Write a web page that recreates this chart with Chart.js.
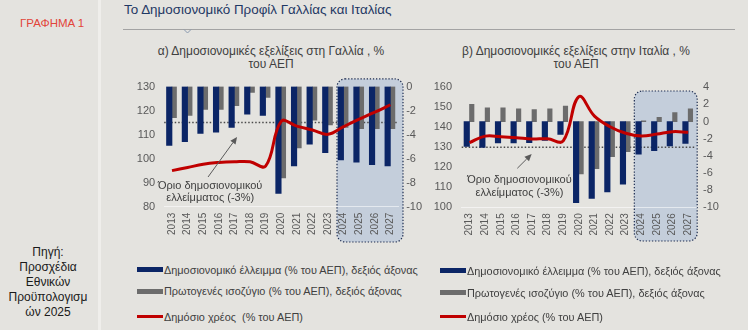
<!DOCTYPE html>
<html><head><meta charset="utf-8">
<script src="https://cdn.jsdelivr.net/npm/chart.js@4.4.1/dist/chart.umd.min.js"></script>
<style>
html,body{margin:0;padding:0;}
body{width:748px;height:330px;background:#e4e3df;position:relative;overflow:hidden;font-family:"Liberation Sans",Arial,sans-serif;}
.abs{position:absolute;white-space:nowrap;}
.sub{font-size:12px;color:#404040;text-align:center;width:320px;line-height:13px;}
.leg{position:absolute;font-size:10.9px;color:#404040;line-height:14px;white-space:pre;}
.sw{position:absolute;width:26px;}
canvas{position:absolute;}
</style></head><body>
<div class="abs" style="left:98px;top:0;width:3px;height:330px;background:#efeeeb"></div>
<div class="abs" style="left:20px;top:17px;font-size:11.5px;color:#e2453a;">ΓΡΑΦΗΜΑ 1</div>
<div class="abs" style="left:0;top:245px;width:96px;text-align:center;font-size:12px;line-height:15px;color:#1a1a1a;white-space:normal">Πηγή:<br>Προσχέδια<br>Εθνικών<br>Προϋπολογισμ<br>ών 2025</div>
<div class="abs" style="left:124px;top:2px;font-size:13.4px;color:#1f3864;">Το Δημοσιονομικό Προφίλ Γαλλίας και Ιταλίας</div>
<svg class="abs" style="left:0;top:0" width="748" height="40"><line x1="123" y1="29.5" x2="735" y2="29.5" stroke="#a3a3a3" stroke-width="1"/><polyline points="184,29.5 187.5,33 191,29.5" fill="none" stroke="#8a9ab0" stroke-width="1"/></svg>
<div class="abs sub" style="left:111px;top:45px;">α) Δημοσιονομικές εξελίξεις στη Γαλλία , %<br>του ΑΕΠ</div>
<div class="abs sub" style="left:416px;top:45px;">β) Δημοσιονομικές εξελίξεις στην Ιταλία , %<br>του ΑΕΠ</div>
<canvas id="fr" width="310" height="180" style="left:120px;top:70px"></canvas>
<canvas id="it" width="328" height="180" style="left:420px;top:70px"></canvas>
<div id="legends"></div>
<script>
// ---- data ----
const years = ['2013','2014','2015','2016','2017','2018','2019','2020','2021','2022','2023','2024','2025','2026','2027'];
const frDeficit = [-4.9,-4.6,-3.9,-3.8,-3.4,-2.3,-2.4,-8.9,-6.6,-4.8,-5.5,-6.1,-6.3,-6.5,-6.6];
const frPrimary = [-2.6,-2.4,-1.9,-1.9,-1.6,-0.5,-0.9,-7.6,-5.1,-2.8,-3.2,-3.4,-3.5,-3.5,-3.5];
const frDebt    = [95.0,96.3,97.7,98.4,98.7,98.7,96.9,115.5,113.5,111.9,110.1,113.3,116.4,119.3,122.4];
const itDeficit = [-2.9,-3.0,-2.5,-2.5,-2.45,-2.2,-1.5,-9.45,-8.95,-8.2,-7.3,-3.8,-3.4,-2.85,-2.55];
const itPrimary = [2.0,1.6,1.6,1.5,1.4,1.5,1.8,-6.1,-5.5,-4.1,-3.5,0.1,0.5,1.05,1.5];
const itDebt    = [132.3,135.6,135.3,134.8,134.1,134.3,133.2,155.3,145.6,140.3,137.0,135.6,136.6,137.8,137.5];
const frLeftTicks  = [80,90,100,110,120,130];
const frRightTicks = [-10,-8,-6,-4,-2,0];
const itLeftTicks  = [100,110,120,130,140,150,160];
const itRightTicks = [-10,-8,-6,-4,-2,0,2,4];
const deficitLimit = -3;
const seriesLabels = ['Δημοσιονομικό έλλειμμα (% του ΑΕΠ), δεξιός άξονας','Πρωτογενές ισοζύγιο (% του ΑΕΠ), δεξιός άξονας','Δημόσιο χρέος (% του ΑΕΠ)'];
const frLegendLabels = ['Δημοσιονομικό έλλειμμα (% του ΑΕΠ), δεξιός άξονας','Πρωτογενές ισοζύγιο (% του ΑΕΠ), δεξιός άξονας','Δημόσιο χρέος  (% του ΑΕΠ)'];
const annotationLines = ['Όριο δημοσιονομικού','ελλείμματος (-3%)'];
const projectedFrom = '2024', projectedTo = '2027';

const NAVY = '#0b2566', GREY = '#6c6c6c', RED = '#c00000';
const FONT = '"Liberation Sans", Arial, sans-serif';

function roundRectPath(ctx,x,y,w,h,r){
  ctx.beginPath();
  ctx.moveTo(x+r,y); ctx.lineTo(x+w-r,y); ctx.arcTo(x+w,y,x+w,y+r,r);
  ctx.lineTo(x+w,y+h-r); ctx.arcTo(x+w,y+h,x+w-r,y+h,r);
  ctx.lineTo(x+r,y+h); ctx.arcTo(x,y+h,x,y+h-r,r);
  ctx.lineTo(x,y+r); ctx.arcTo(x,y,x+r,y,r); ctx.closePath();
}

const overlay = {
  id:'overlay',
  beforeDraw(chart,args,o){
    const {ctx, chartArea:ca, scales:{x,y1}} = chart;
    const left = x.getPixelForValue(years.indexOf(projectedFrom)) - o.padL;
    const right = x.getPixelForValue(years.indexOf(projectedTo)) + o.padR;
    const top = y1.getPixelForValue(o.topVal);
    const bottom = ca.bottom + o.below;
    ctx.save();
    roundRectPath(ctx,left,top,right-left,bottom-top,8);
    ctx.fillStyle = '#c4cedb'; ctx.fill();
    ctx.setLineDash([1.3,1.8]); ctx.lineWidth = 1.2; ctx.strokeStyle = '#1c2b4f'; ctx.stroke();
    ctx.restore();
  },
  beforeDatasetsDraw(chart,args,o){
    const {ctx, chartArea:ca, scales:{y1}} = chart;
    const yy = y1.getPixelForValue(deficitLimit);
    ctx.save();
    ctx.setLineDash([1.5,2]); ctx.lineWidth = 1.5; ctx.strokeStyle = '#4a4a4a';
    ctx.beginPath(); ctx.moveTo(ca.left, yy); ctx.lineTo(ca.right, yy); ctx.stroke();
    ctx.restore();
  },
  afterDatasetsDraw(chart,args,o){
    const {ctx, scales:{x,y,y1}} = chart;
    const px = v => x.getPixelForValue(0) + v*(x.getPixelForValue(1)-x.getPixelForValue(0));
    const x0 = px(o.tail[0]), yA = y1.getPixelForValue(o.tail[1]);
    const x1 = px(o.head[0]), yB = y1.getPixelForValue(o.head[1]);
    ctx.save();
    ctx.strokeStyle = '#5a5a5a'; ctx.fillStyle = '#5a5a5a'; ctx.lineWidth = 1;
    const ang = Math.atan2(yB-yA, x1-x0);
    const hl = 7, hw = 3.2;
    const bx = x1 - hl*Math.cos(ang), by = yB - hl*Math.sin(ang);
    ctx.beginPath(); ctx.moveTo(x0,yA); ctx.lineTo(bx,by); ctx.stroke();
    ctx.beginPath(); ctx.moveTo(x1,yB);
    ctx.lineTo(bx - hw*Math.sin(ang), by + hw*Math.cos(ang));
    ctx.lineTo(bx + hw*Math.sin(ang), by - hw*Math.cos(ang));
    ctx.closePath(); ctx.fill();
    ctx.font = '11px ' + FONT; ctx.fillStyle = '#404040';
    ctx.textAlign = 'center'; ctx.textBaseline = 'middle';
    const tx = px(o.textX);
    ctx.fillText(annotationLines[0], tx, y.getPixelForValue(o.textY[0]));
    ctx.fillText(annotationLines[1], tx, y.getPixelForValue(o.textY[1]));
    ctx.restore();
  }
};

function makeChart(id, c){
  const tickFont = {size:11, family:FONT};
  return new Chart(document.getElementById(id), {
    type:'bar',
    plugins:[overlay],
    data:{labels:years, datasets:[
      {type:'line', label:seriesLabels[2], data:c.debt, yAxisID:'y', borderColor:RED, backgroundColor:RED, borderWidth:3, pointRadius:0, tension:0.4, order:0},
      {label:seriesLabels[0], data:c.deficit, yAxisID:'y1', backgroundColor:NAVY, barThickness:5.5, order:1},
      {label:seriesLabels[1], data:c.primary, yAxisID:'y1', backgroundColor:GREY, barThickness:4.5, order:2}
    ]},
    options:{
      responsive:false, animation:false, devicePixelRatio:1,
      layout:{padding:{top:c.padTop,left:0,right:0,bottom:0}},
      plugins:{legend:{display:false}, tooltip:{enabled:false}, overlay:c.ov},
      scales:{
        x:{grid:{display:false,drawTicks:false}, border:{display:true,color:'rgba(255,255,255,0.55)',width:1},
           ticks:{minRotation:90,maxRotation:90,autoSkip:false,padding:6,color:'#595959',font:{size:10,family:FONT}},
           afterFit(s){s.height=c.xH;}},
        y:{position:'left', min:c.left[0], max:c.left[c.left.length-1],
           afterBuildTicks(s){s.ticks=c.left.map(v=>({value:v}));},
           ticks:{color:'#595959',font:tickFont,padding:c.lPad}, grid:{display:false,drawTicks:false}, border:{display:false},
           afterFit(s){s.width=c.leftW;}},
        y1:{position:'right', min:c.right[0], max:c.right[c.right.length-1],
           afterBuildTicks(s){s.ticks=c.right.map(v=>({value:v}));},
           ticks:{color:'#595959',font:tickFont,padding:c.rPad}, grid:{display:false,drawTicks:false}, border:{display:false},
           afterFit(s){s.width=c.rightW;}}
      }
    }
  });
}

makeChart('fr', {debt:frDebt, deficit:frDeficit, primary:frPrimary, left:frLeftTicks, right:frRightTicks,
  padTop:16.5, xH:43.3, leftW:44.2, rightW:31.8, lPad:9, rPad:8,
  ov:{padL:6.6, padR:12.6, topVal:0.63, below:35.3, tail:[2.31,-7.53], head:[4.17,-4.2], textX:2.45, textY:[88.7,83.7]}});
makeChart('it', {debt:itDebt, deficit:itDeficit, primary:itPrimary, left:itLeftTicks, right:itRightTicks,
  padTop:17.3, xH:42.7, leftW:41.7, rightW:52, lPad:9.7, rPad:7,
  ov:{padL:7, padR:9, topVal:3.57, below:33.7, tail:[3.06,-5.45], head:[3.98,-3.78], textX:3.2, textY:[113.6,107.3]}});

// ---- HTML legends ----
function legend(x, labels, rows){
  const colors = [NAVY, GREY, RED];
  const host = document.getElementById('legends');
  labels.forEach((t,i)=>{
    const cy = rows[i];
    const h = i<2 ? 5 : 3;
    const sw = document.createElement('div');
    sw.className='sw'; sw.style.left = x+'px'; sw.style.top = (cy-h/2)+'px'; sw.style.height = h+'px'; sw.style.background = colors[i];
    host.appendChild(sw);
    const tx = document.createElement('div');
    tx.className='leg'; tx.style.left = (x+27)+'px'; tx.style.top = (cy-7)+'px'; tx.textContent = t;
    host.appendChild(tx);
  });
}
legend(137, frLegendLabels, [269.5, 291, 316.7]);
legend(440, seriesLabels, [270.5, 292.5, 316.7]);
</script>
</body></html>
